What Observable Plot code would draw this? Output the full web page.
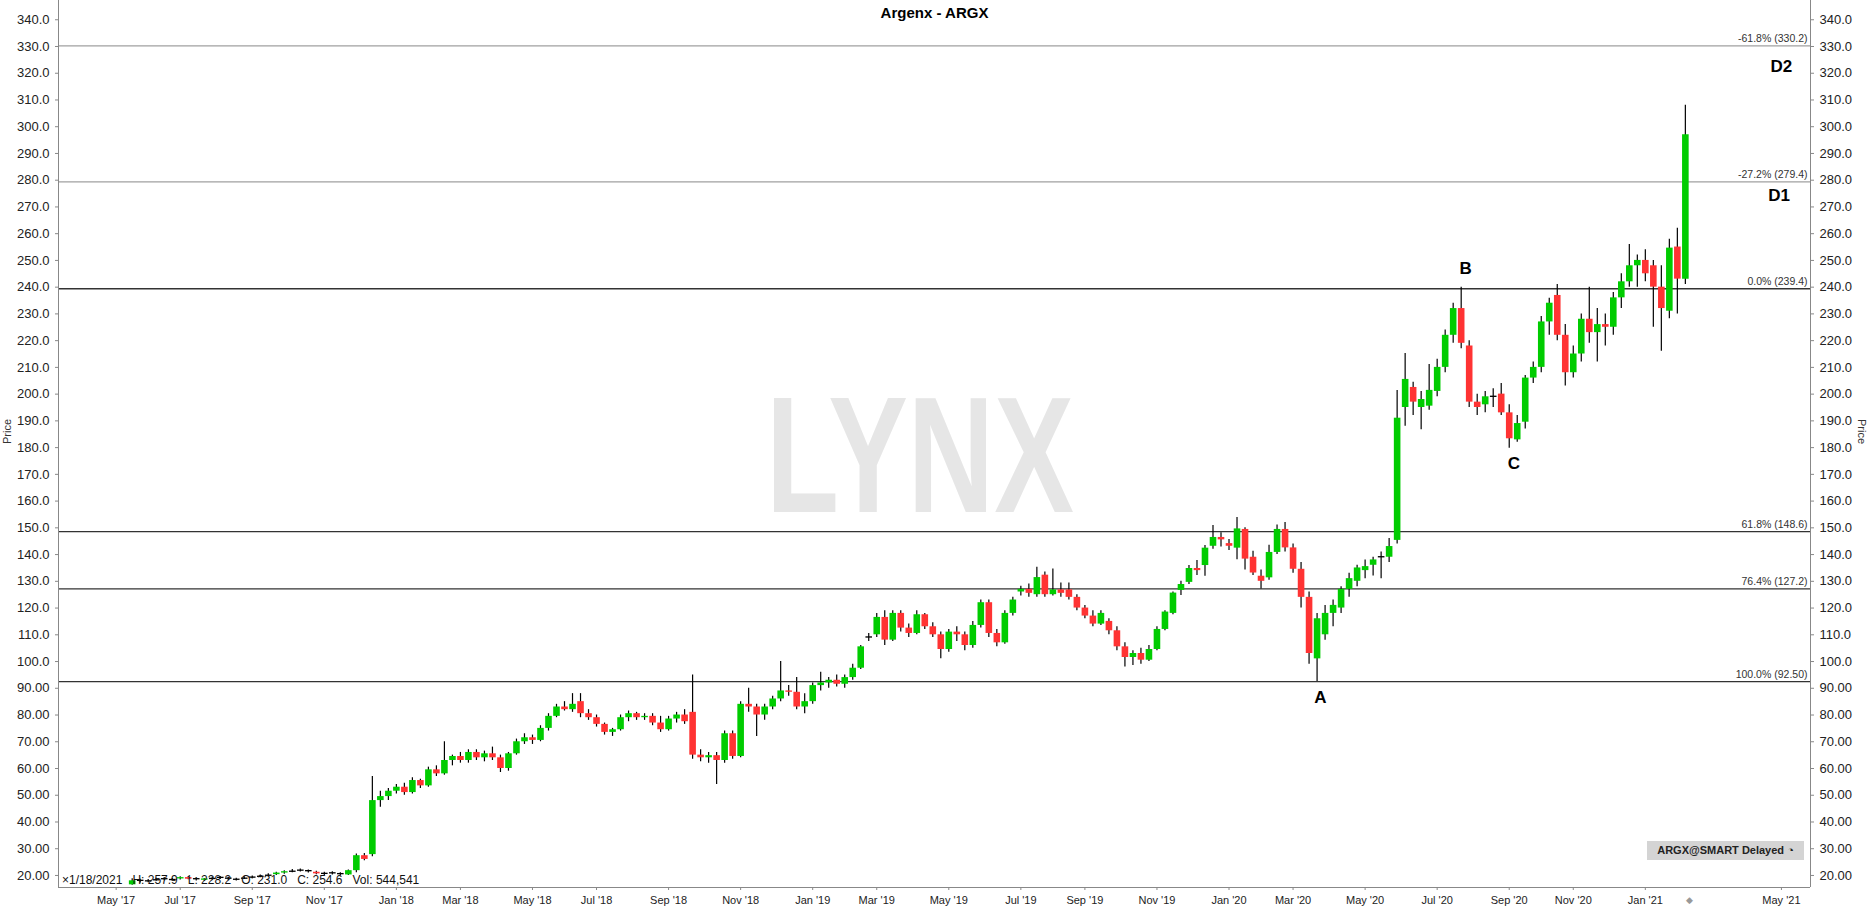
<!DOCTYPE html>
<html><head><meta charset="utf-8">
<script src="https://cdn.jsdelivr.net/npm/d3@7"></script>
<script src="https://cdn.jsdelivr.net/npm/@observablehq/plot@0.6"></script>
<style>
html,body{margin:0;padding:0;background:#fff;}
#wrap{position:relative;width:1868px;height:909px;overflow:hidden;font-family:"Liberation Sans",Arial,sans-serif;}
#status{position:absolute;left:62px;top:873px;font-size:12px;color:#111;white-space:pre;}
#delayed{position:absolute;left:1647px;top:841px;width:157px;height:19px;line-height:19px;background:#d4d4d4;color:#222;font-size:11px;font-weight:bold;text-align:center;}
#nowmark{position:absolute;left:1686px;top:895px;font-size:9px;color:#999;}
</style></head><body><div id="wrap"></div>
<script>
// ---- data (weekly candles, first week 2017-05-15, last week 2021-02-01) ----
const open = [16.5,18.0,17.8,18.2,18.6,18.3,18.7,19.2,18.6,18.2, 18.7,19.1,18.8,18.4,18.8,19.2,19.5,19.9,20.3,20.9, 21.4,21.8,21.6,21.2,20.6,20.8,20.5,20.2,21.8,27.4, 27.8,48.0,49.5,51.5,53.0,51.0,55.5,53.5,59.5,58.0, 63.0,64.5,63.0,66.0,64.0,65.5,64.0,60.0,65.5,70.0, 71.5,70.5,75.0,79.5,83.0,82.0,85.0,80.5,79.0,76.5, 73.5,74.5,79.0,80.5,79.0,79.5,77.0,74.5,78.5,80.0, 81.0,65.0,64.0,64.8,63.0,73.0,64.5,84.0,83.0,80.0, 83.0,86.0,89.0,88.5,83.0,85.0,91.0,92.0,93.0,91.5, 94.0,97.5,109.0,110.0,116.5,108.0,118.0,112.5,110.5,117.5, 113.0,110.0,104.5,111.0,110.0,106.0,113.5,122.0,110.5,107.0, 118.0,126.0,127.0,125.0,132.3,125.0,126.8,126.8,124.0,120.0, 117.0,114.0,115.0,111.5,105.5,101.5,103.0,100.5,104.5,112.0, 118.0,126.6,129.6,134.8,135.9,143.1,146.4,144.1,142.4,149.4, 139.0,131.9,131.3,140.8,149.4,142.5,134.5,124.0,101.0,110.0, 118.0,120.0,127.0,130.0,134.0,136.0,139.0,139.0,145.3,195.0, 202.5,195.0,195.5,201.0,210.0,222.0,232.0,218.0,197.0,196.0, 199.0,200.0,193.0,182.9,189.5,206.0,210.0,227.0,236.9,222.0, 208.0,215.0,228.0,223.0,226.0,225.0,236.0,242.0,248.0,250.0, 248.0,240.0,231.0,255.0,243.0];
const high = [18.8,18.6,18.5,19.0,19.2,18.9,19.5,19.6,19.0,18.9, 19.4,19.6,19.3,19.0,19.5,19.8,20.2,20.6,21.2,21.8, 22.2,22.4,22.0,21.6,21.2,21.4,21.0,22.0,28.0,28.2, 57.0,51.5,52.5,54.0,54.5,56.5,56.0,60.5,61.0,70.0, 65.0,66.0,67.0,67.0,66.5,68.0,65.0,66.0,71.0,73.0, 72.5,76.0,80.5,84.0,85.0,88.0,88.0,82.0,80.0,77.0, 75.0,80.0,81.5,81.0,80.5,80.5,79.5,79.5,81.0,82.0, 95.0,67.0,66.0,66.0,74.0,74.0,85.0,90.0,84.0,84.0, 87.0,100.0,91.0,94.0,88.0,92.0,96.0,94.0,95.0,95.0, 99.0,106.0,110.5,118.0,119.0,119.0,119.0,114.0,119.0,118.0, 114.5,111.0,112.0,113.0,111.0,115.0,123.0,123.0,112.0,119.0, 124.0,128.2,129.0,135.3,133.5,134.6,129.4,129.4,125.0,121.0, 119.0,119.0,116.0,113.0,107.0,104.0,105.0,106.0,113.0,119.0, 126.0,130.0,135.9,137.8,143.4,150.9,148.2,145.6,153.9,150.0, 141.2,134.2,143.5,151.1,152.0,144.0,137.0,126.0,118.0,121.0, 123.0,128.0,133.0,136.0,138.0,139.0,141.0,146.0,201.4,215.2, 204.4,201.0,211.1,213.0,224.0,234.0,240.0,220.0,200.0,201.0, 202.0,204.0,196.0,192.0,207.0,212.0,229.0,235.9,241.0,226.0, 218.0,230.0,240.0,232.0,230.0,238.0,245.0,256.0,252.0,254.0, 250.0,248.0,257.9,262.0,308.0];
const low = [16.3,17.2,17.3,17.8,18.0,17.8,18.3,18.4,17.9,17.8, 18.3,18.5,18.1,17.9,18.5,18.8,19.1,19.4,20.0,20.5, 21.0,21.3,20.9,20.3,20.0,20.2,19.8,20.0,21.0,25.5, 27.0,45.5,48.0,50.5,50.0,50.5,52.5,53.0,57.0,57.5, 61.0,62.0,62.0,63.0,62.5,63.0,58.5,59.0,65.0,69.0, 69.0,70.0,74.0,79.0,81.5,81.0,79.0,78.0,75.5,72.5, 72.0,74.0,77.5,78.0,78.0,76.0,73.5,74.0,77.0,76.5, 63.5,62.5,62.0,54.0,62.0,63.5,64.0,81.0,72.0,78.0, 82.0,85.0,87.0,82.0,80.5,84.0,89.0,90.0,90.5,90.0, 93.0,97.0,107.5,109.0,106.0,107.5,111.0,109.0,110.0,112.0, 109.0,101.0,103.5,107.5,104.0,105.0,112.5,109.0,105.5,106.5, 117.0,124.5,124.0,124.0,124.0,124.5,124.0,123.0,119.0,116.0, 113.0,113.5,110.0,104.0,98.0,98.5,99.0,100.0,104.0,111.5, 117.5,124.7,128.8,132.2,131.9,142.0,142.8,141.5,138.1,134.2, 132.2,127.1,130.4,140.0,141.0,133.0,120.0,99.0,92.5,108.0, 113.0,118.0,124.0,128.0,131.0,132.0,131.0,137.0,144.0,188.0, 192.0,186.7,194.0,199.0,208.0,219.0,217.0,195.0,192.0,193.0, 195.0,192.0,179.8,182.0,187.0,204.0,208.0,222.0,220.0,203.0, 206.0,212.0,219.0,212.0,218.0,222.0,232.0,240.0,240.0,242.0, 225.0,216.0,228.2,230.0,241.0];
const close = [18.0,17.8,18.2,18.6,18.3,18.7,19.2,18.6,18.2,18.7, 19.1,18.8,18.4,18.8,19.2,19.5,19.9,20.3,20.9,21.4, 21.8,21.6,21.2,20.6,20.8,20.5,20.2,21.8,27.4,26.0, 48.0,49.5,51.5,53.0,51.0,55.5,53.5,59.5,58.0,63.0, 64.5,63.0,66.0,64.0,65.5,64.0,60.0,65.5,70.0,71.5, 70.5,75.0,79.5,83.0,82.0,84.0,80.5,79.0,76.5,73.5, 74.5,79.0,80.5,79.0,79.5,77.0,74.5,78.5,80.0,77.5, 65.0,64.0,64.8,63.0,73.0,64.5,84.0,83.0,80.0,83.0, 86.0,89.0,88.5,83.0,85.0,91.0,92.0,93.0,91.5,94.0, 97.5,105.5,109.0,116.5,108.0,118.0,112.5,110.5,117.5,113.0, 110.0,104.5,111.0,110.0,106.0,113.5,122.0,110.5,107.0,118.0, 123.0,127.0,125.5,131.4,125.0,126.8,125.5,124.0,120.0,117.0, 114.0,118.0,111.5,105.5,101.5,103.0,100.5,104.5,112.0,118.5, 125.6,128.8,134.8,134.0,142.4,146.4,145.5,143.1,149.6,138.3, 133.1,130.0,140.8,149.4,142.5,134.5,124.0,103.0,116.0,118.0, 121.0,127.0,131.0,135.0,135.5,138.0,139.2,143.0,191.0,205.5, 197.0,198.0,201.4,210.0,222.0,232.0,219.0,197.0,195.0,199.0, 199.2,193.0,183.3,189.0,206.0,210.0,227.0,234.0,222.0,208.0, 215.0,228.0,223.0,226.0,225.0,236.0,242.0,248.0,250.0,245.0, 240.0,232.0,254.6,243.0,297.0];

const fibLevels = [330.2, 279.4, 239.4, 148.6, 127.2, 92.5];
const fibLabels = ["-61.8% (330.2)", "-27.2% (279.4)", "0.0% (239.4)", "61.8% (148.6)", "76.4% (127.2)", "100.0% (92.50)"];

const noteLabels = ["D2", "D1", "B", "C", "A"];
const noteDates = ["2021-04-26", "2021-04-24", "2020-07-24", "2020-09-04", "2020-03-19"];
const notePrices = [322.5, 274.3, 247.0, 174.0, 86.5];

const xTickMonths = ["2017-05-01","2017-07-01","2017-09-01","2017-11-01","2018-01-01","2018-03-01","2018-05-01","2018-07-01","2018-09-01","2018-11-01","2019-01-01","2019-03-01","2019-05-01","2019-07-01","2019-09-01","2019-11-01","2020-01-01","2020-03-01","2020-05-01","2020-07-01","2020-09-01","2020-11-01","2021-01-01","2021-05-01"];
const xTickLabels = ["May '17","Jul '17","Sep '17","Nov '17","Jan '18","Mar '18","May '18","Jul '18","Sep '18","Nov '18","Jan '19","Mar '19","May '19","Jul '19","Sep '19","Nov '19","Jan '20","Mar '20","May '20","Jul '20","Sep '20","Nov '20","Jan '21","May '21"];
const yTicks = d3.range(20, 341, 10);

const titleText = "Argenx - ARGX";
const statusText = "\u00d71/18/2021   H: 257.9   L: 228.2   O: 231.0   C: 254.6   Vol: 544,541";

// ---- build ----
const weeks = d3.utcMonday.range(new Date(Date.UTC(2017,4,15)), new Date(Date.UTC(2021,1,2)));
const candles = weeks.map((date, i) => ({date, open: open[i], high: high[i], low: low[i], close: close[i]}));
const ups = candles.filter(d => d.close - d.open >= 0.5);
const downs = candles.filter(d => d.open - d.close >= 0.5);
const dojis = candles.filter(d => Math.abs(d.close - d.open) < 0.5);
const notes = noteLabels.map((label, i) => ({label, date: new Date(noteDates[i]), price: notePrices[i]}));
const tickDates = xTickMonths.map(s => d3.utcMonday.floor(new Date(s)));
const tickLabelMap = new Map(tickDates.map((d, i) => [+d, xTickLabels[i]]));

const xDomain = [new Date(Date.UTC(2017,2,11,14)), new Date(Date.UTC(2021,4,21,10))];
const yDomain = [15.5, 347.2];
const GREEN = "#00cc00", RED = "#ff3333";
const fmtY = d => d >= 100 ? d.toFixed(1) : d.toFixed(2);

const plot = Plot.plot({
  width: 1868, height: 909,
  marginLeft: 58, marginRight: 58, marginTop: 0, marginBottom: 22,
  style: {fontFamily: "'Liberation Sans', Arial, sans-serif", color: "#222", background: "#fff", overflow: "visible"},
  x: {type: "utc", domain: xDomain},
  y: {domain: yDomain},
  marks: [
    Plot.ruleY(fibLevels.filter(v => v > 260), {stroke: "#a0a0a0", strokeWidth: 1.2}),
    Plot.ruleY(fibLevels.filter(v => v < 260), {stroke: "#333", strokeWidth: 1.3}),
    Plot.text(fibLevels, {y: d => d, frameAnchor: "right", dx: -3, dy: -7, text: (d, i) => fibLabels[i], textAnchor: "end", fontSize: 10.5, fill: "#333"}),
    Plot.ruleX(candles, {x: "date", y1: "low", y2: "high", stroke: "#000", strokeWidth: 1.2}),
    Plot.ruleX(ups, {x: "date", y1: "open", y2: "close", stroke: GREEN, strokeWidth: 6.6}),
    Plot.ruleX(downs, {x: "date", y1: "open", y2: "close", stroke: RED, strokeWidth: 6.6}),
    Plot.ruleX(dojis, {x: "date", y1: d => d.open - 0.25, y2: d => d.open + 0.25, stroke: "#000", strokeWidth: 6.6}),
    Plot.text(notes, {x: "date", y: "price", text: "label", fontWeight: "bold", fontSize: 17, fill: "#000"}),
    Plot.text([titleText], {frameAnchor: "top", dy: 7, fontWeight: "bold", fontSize: 15, fill: "#000"}),
    Plot.text(["Price"], {frameAnchor: "left", dx: -51, rotate: -90, fontSize: 11, fill: "#333"}),
    Plot.text(["Price"], {frameAnchor: "right", dx: 51, rotate: 90, fontSize: 11, fill: "#333"}),
    Plot.ruleX([xDomain[0], xDomain[1]], {stroke: "#888"}),
    Plot.ruleY([yDomain[0]], {stroke: "#888"}),
    Plot.axisY(yTicks, {anchor: "left", tickSize: 3, tickFormat: fmtY, fontSize: 13, label: null, stroke: "#888", fill: "#222"}),
    Plot.axisY(yTicks, {anchor: "right", tickSize: 3, tickFormat: fmtY, fontSize: 13, label: null, stroke: "#888", fill: "#222"}),
    Plot.axisX(tickDates, {anchor: "bottom", tickSize: 3, tickFormat: d => tickLabelMap.get(+d), fontSize: 11, label: null, stroke: "#888", fill: "#222"})
  ]
});

const svg = d3.select(plot);
svg.insert("text", "g")
  .attr("transform", "translate(920,512) scale(0.72,1)")
  .attr("text-anchor", "middle")
  .attr("font-family", "'Liberation Sans', Arial, sans-serif")
  .attr("font-weight", "bold")
  .attr("font-size", 166)
  .attr("fill", "#e6e6e6")
  .text("LYNX");

const wrap = document.getElementById("wrap");
wrap.appendChild(plot);
const st = document.createElement("div"); st.id = "status"; st.textContent = statusText; wrap.appendChild(st);
const dl = document.createElement("div"); dl.id = "delayed"; dl.textContent = "ARGX@SMART Delayed \u25D4"; wrap.appendChild(dl);
const nm = document.createElement("div"); nm.id = "nowmark"; nm.textContent = "\u25C6"; wrap.appendChild(nm);
</script>
</body></html>
